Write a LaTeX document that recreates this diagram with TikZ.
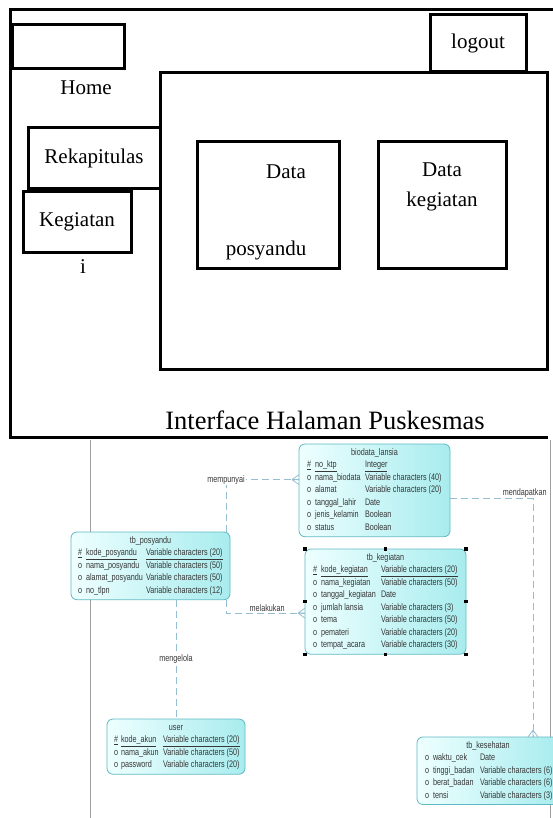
\documentclass[tikz,border=0pt]{standalone}
\usepackage{fontspec}
\usepackage{array}
\setmainfont{Liberation Serif}
\newfontfamily\erfont[FakeStretch=0.76]{Liberation Sans}
\usetikzlibrary{calc}
\usetikzlibrary{positioning}
\definecolor{erline}{RGB}{95,185,195}
\definecolor{erlight}{RGB}{238,255,255}
\definecolor{erdark}{RGB}{168,236,238}
\definecolor{relline}{RGB}{150,190,210}
\definecolor{ertext}{RGB}{55,55,55}
\tikzstyle{frame}=[draw=black,line width=3pt]
\tikzstyle{menubox}=[draw=black,line width=3pt,inner sep=0pt,outer sep=0pt,anchor=north west,font=\fontsize{21}{24}\selectfont]
\tikzstyle{wftext}=[font=\fontsize{21}{30}\selectfont,inner sep=0pt]
\tikzstyle{entity}=[draw=erline,line width=0.8pt,rounded corners=6pt,left color=erlight,right color=erdark,anchor=north west,outer sep=0pt,inner ysep=2.5pt,text=ertext,font=\erfont\fontsize{9.5}{12.5}\selectfont]
\tikzstyle{relation}=[draw=relline,line width=0.8pt,dash pattern=on 7pt off 4pt]
\tikzstyle{rellabel}=[text=ertext,font=\erfont\fontsize{9.5}{12}\selectfont,inner sep=1pt]
\tikzstyle{pageline}=[draw=gray!75,line width=0.8pt]
\newcommand{\crowfoot}[2]{% (end point on the entity) (angle pointing away from it)
  \draw[relation,solid] ($(#1)+(#2:7)$) -- ($(#1)+(#2+90:5)$)
    ($(#1)+(#2:7)$) -- ($(#1)+(#2-90:5)$)
    ($(#1)+(#2:7)$) -- (#1);
}
\begin{document}
\begin{tikzpicture}[x=1pt,y=-1pt]
  \useasboundingbox (0,0) rectangle (553,818);
  \clip (0,0) rectangle (553,818);
  % interface halaman puskesmas
  \draw[frame] (560,10) -| (10,437) -- (548,437);
  \node[menubox,minimum width=112,minimum height=44] (homebox) at (12,25) {};
  \node[wftext] (home) at (86,88) {Home};
  \node[menubox,minimum width=96,minimum height=57] (logout) at (430,15) {logout};
  \node[menubox,minimum width=387,minimum height=296] (content) at (160,73) {};
  \node[menubox,minimum width=132,minimum height=61] (rekap) at (28,128) {Rekapitulas};
  \node[menubox,minimum width=108,minimum height=60] (kegiatan) at (23,192) {Kegiatan};
  \node[wftext] (kegiatanI) at (83,267) {i};
  \node[menubox,minimum width=142,minimum height=126] (dataposyandu) at (197,142) {};
  \node[wftext] (dataA) at (286,172) {Data};
  \node[wftext] (dataB) at (266,250) {posyandu};
  \node[menubox,minimum width=128,minimum height=126] (datakegiatan) at (378,142) {};
  \node[wftext,align=center] (dataC) at (442,187) {Data\\kegiatan};
  \node[font=\fontsize{26.5}{30}\selectfont,inner sep=0pt] (title) at (325,420) {Interface Halaman Puskesmas};
  % model data
  \draw[pageline] (90,440) -- (90,818);
  \draw[pageline] (550,440) -- (550,818);
  \node[entity,inner xsep=8pt] (biodata) at (299,444) {\begin{tabular}{@{}w{l}{8pt}@{}w{l}{50pt}@{}w{l}{77pt}@{}}
    \multicolumn{3}{c}{biodata\_lansia}\\
    \underline{\#} & \underline{no\_ktp} & \underline{Integer}\\
    o & nama\_biodata & Variable characters (40)\\
    o & alamat & Variable characters (20)\\
    o & tanggal\_lahir & Date\\
    o & jenis\_kelamin & Boolean\\
    o & status & Boolean
  \end{tabular}};
  \node[entity,inner xsep=7pt] (posyandu) at (71,532) {\begin{tabular}{@{}w{l}{8pt}@{}w{l}{60pt}@{}w{l}{77pt}@{}}
    \multicolumn{3}{c}{tb\_posyandu}\\
    \underline{\#} & \underline{kode\_posyandu} & \underline{Variable characters (20)}\\
    o & nama\_posyandu & Variable characters (50)\\
    o & alamat\_posyandu & Variable characters (50)\\
    o & no\_tlpn & Variable characters (12)
  \end{tabular}};
  \node[entity,inner xsep=8pt] (tbkegiatan) at (305,549) {\begin{tabular}{@{}w{l}{8pt}@{}w{l}{60pt}@{}w{l}{77pt}@{}}
    \multicolumn{3}{c}{tb\_kegiatan}\\
    \underline{\#} & \underline{kode\_kegiatan} & \underline{Variable characters (20)}\\
    o & nama\_kegiatan & Variable characters (50)\\
    o & tanggal\_kegiatan & Date\\
    o & jumlah lansia & Variable characters (3)\\
    o & tema & Variable characters (50)\\
    o & pemateri & Variable characters (20)\\
    o & tempat\_acara & Variable characters (30)
  \end{tabular}};
  \node[entity,inner xsep=7pt] (user) at (107,719) {\begin{tabular}{@{}w{l}{7pt}@{}w{l}{42pt}@{}w{l}{75pt}@{}}
    \multicolumn{3}{c}{user}\\
    \underline{\#} & \underline{kode\_akun} & \underline{Variable characters (20)}\\
    o & nama\_akun & Variable characters (50)\\
    o & password & Variable characters (20)
  \end{tabular}};
  \node[entity,inner xsep=8pt] (kesehatan) at (417,737) {\begin{tabular}{@{}w{l}{8pt}@{}w{l}{47pt}@{}w{l}{71pt}@{}}
    \multicolumn{3}{c}{tb\_kesehatan}\\
    o & waktu\_cek & Date\\
    o & tinggi\_badan & Variable characters (6)\\
    o & berat\_badan & Variable characters (6)\\
    o & tensi & Variable characters (3)
  \end{tabular}};
  % selection handles
  \foreach \a in {north west,north,north east,east,south east,south,south west,west}
    \fill (tbkegiatan.\a) ++(-1.6,-1.6) rectangle ++(3.2,3.2);
  % relasi
  \coordinate (bioIn) at ([yshift=10.75pt]biodata.west);
  \coordinate (bioOut) at ([yshift=-8.25pt]biodata.east);
  \coordinate (kegIn) at ([yshift=-11.5pt]tbkegiatan.west);
  \coordinate (kesIn) at ([xshift=45pt]kesehatan.north);
  \draw[relation] ([xshift=-4pt]posyandu.north east) |- node[rellabel,fill=white,pos=0.5] {mempunyai} (bioIn);
  \crowfoot{bioIn}{180}
  \draw[relation] ([xshift=-4pt]posyandu.south east) |- node[rellabel,pos=0.76,anchor=south] {melakukan} (kegIn);
  \crowfoot{kegIn}{180}
  \draw[relation] (user.north |- posyandu.south) -- node[rellabel,fill=white] {mengelola} (user.north);
  \draw[relation] (bioOut) -| node[rellabel,pos=0.5,anchor=south east,xshift=15pt] {mendapatkan} (kesIn);
  \crowfoot{kesIn}{270}
\end{tikzpicture}
\end{document}
